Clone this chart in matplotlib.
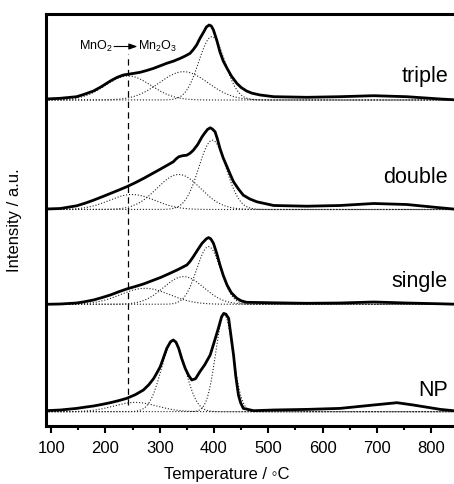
import numpy as np
import matplotlib
matplotlib.use("Agg")
import matplotlib.pyplot as plt

plt.rcParams['font.family'] = ['Liberation Sans', 'DejaVu Sans']
plt.rcParams['mathtext.default'] = 'regular'

# ---- data ----
samples = ["triple", "double", "single", "NP"]
offsets = [326, 216.5, 121.7, 14.3]

triple_T = [90, 117, 147, 160, 178, 193, 209, 221, 233, 245, 254, 264, 276, 289, 300, 313, 326, 338, 347, 356, 362, 368, 374, 381, 386, 391, 395, 399, 405, 411, 417, 424, 432, 442, 450, 460, 470, 485, 510, 571, 632, 694, 755, 817, 850]
triple_I = [1, 1.7, 3.3, 5.5, 9, 13.5, 19, 22.5, 25, 26, 26.8, 27.7, 29.5, 31.7, 34, 36.7, 39, 41.7, 44, 46.7, 50.5, 55, 61.5, 68, 73, 75, 74, 70, 60, 48, 39, 31.7, 24, 16.7, 12.5, 9, 6.8, 5, 3.3, 2.7, 3.3, 4.3, 3.3, 1, 0]

double_T = [90, 117, 147, 162, 178, 193, 209, 224, 239, 255, 270, 285, 301, 313, 325, 330, 335, 342, 350, 356, 362, 370, 378, 383, 388, 393, 397, 402, 406, 411, 417, 424, 430, 436, 445, 454, 466, 479, 510, 571, 632, 694, 755, 817, 850]
double_I = [0.5, 1, 3.7, 6.2, 9.3, 12.5, 16, 19.3, 22.7, 26.8, 31, 35.5, 40.3, 44, 47.7, 50.5, 52.7, 53.8, 54.3, 56.3, 59.3, 65, 72.7, 76.5, 80, 81.7, 80.5, 77.7, 71, 61, 51.5, 42.7, 35, 27.7, 20.5, 14.3, 10.5, 7.7, 4, 3.3, 4, 6, 5, 1.7, 0]

single_T = [90, 117, 147, 162, 178, 193, 209, 224, 239, 255, 270, 285, 301, 316, 332, 341, 350, 356, 362, 370, 378, 386, 390, 394, 399, 405, 411, 417, 424, 432, 442, 450, 460, 510, 571, 632, 694, 755, 817, 850]
single_I = [0, 0.3, 1.3, 2.6, 4.3, 6.6, 9.3, 12.4, 15.3, 17.8, 20.3, 23.4, 26.7, 30.3, 34.3, 36.8, 39.3, 43, 47.7, 54.5, 61, 65.5, 66.7, 65.5, 61, 51, 39.3, 29, 19.3, 11.5, 6, 3.5, 2, 1.5, 1, 1.3, 2.3, 1.3, 0.5, 0]

np_T = [90, 117, 147, 162, 178, 193, 209, 224, 239, 255, 270, 280, 289, 295, 301, 307, 313, 320, 325, 330, 335, 340, 347, 353, 359, 366, 374, 383, 393, 400, 408, 414, 418, 422, 427, 431, 436, 440, 445, 449, 454, 473, 510, 571, 632, 694, 737, 767, 817, 850]
np_I = [1, 1.7, 3.3, 4.5, 5.7, 7.2, 9, 11, 13.3, 17, 21.7, 27, 33.3, 39, 45, 54, 63.3, 70, 71.7, 69.5, 63.3, 54, 43.3, 36.5, 31.7, 33, 40, 47, 56.7, 69, 83.3, 95, 98.3, 97.5, 93.3, 77, 56.7, 36, 16.7, 9, 3.3, 1, 1.7, 2.3, 3.3, 6.7, 9, 6.7, 2.3, 0.5]

measured_T = [triple_T, double_T, single_T, np_T]
measured_I = [triple_I, double_I, single_I, np_I]

# fitted component peaks: (centre T, height, width sigma)
triple_peaks = [(242, 24, 42), (344, 28.3, 45), (396, 63.3, 24)]
double_peaks = [(249, 15, 42), (335, 35, 40), (397, 69.3, 25)]
single_peaks = [(273, 16, 45), (344, 27.7, 37), (390, 57.7, 22)]
np_peaks = [(255, 9.3, 40), (325, 70.7, 22), (419, 96.7, 16)]
peaks = [triple_peaks, double_peaks, single_peaks, np_peaks]

label_y = [344.3, 243.3, 139.3, 30]
transition_T = 242
xticks = [100, 200, 300, 400, 500, 600, 700, 800]

# ---- figure ----
fig = plt.figure(figsize=(4.54, 4.84), dpi=100)
ax = fig.add_axes([45.7 / 454, 58 / 484, (458.3 - 45.7) / 454, 412 / 484])
ax.set_xlim(90, 850)
ax.set_ylim(0, 412)

Tgrid = np.linspace(90, 850, 1200)
for k in range(4):
    off = offsets[k]
    for (c, h, s) in peaks[k]:
        g = h * np.exp(-(Tgrid - c) ** 2 / (2 * s ** 2))
        ax.plot(Tgrid, g + off, ls=':', lw=0.8, color='#222222', zorder=2)
    ax.plot(measured_T[k], np.array(measured_I[k]) + off, color='black', lw=2.0,
            solid_joinstyle='round', solid_capstyle='round', zorder=3)
    ax.text(831, label_y[k], samples[k], ha='right', va='baseline', fontsize=15.5)

ax.plot([transition_T, transition_T], [21, 372], ls=(0, (5, 3.5)), lw=0.9, color='black', zorder=1)

ax.text(213, 376, 'MnO$_2$', ha='right', va='baseline', fontsize=9)
ax.text(260, 376, 'Mn$_2$O$_3$', ha='left', va='baseline', fontsize=9)
ax.annotate('', xy=(259, 379.5), xytext=(216, 379.5),
            arrowprops=dict(arrowstyle='-|>,head_length=0.5,head_width=0.18', lw=0.8, color='black',
                            shrinkA=0, shrinkB=0))

ax.set_xticks(xticks)
ax.set_xticks(np.arange(150, 851, 100), minor=True)
ax.set_yticks([])
ax.tick_params(axis='x', which='major', direction='out', length=5, width=1.5, pad=6, labelsize=12)
ax.tick_params(axis='x', which='minor', direction='out', length=3, width=1.5)
for sp in ax.spines.values():
    sp.set_linewidth(2.2)

ax.set_xlabel('Temperature / ◦C', fontsize=12)
ax.xaxis.set_label_coords((227 - 45.7) / (458.3 - 45.7), -0.1)
ax.set_ylabel('Intensity / a.u.', fontsize=12)
ax.yaxis.set_label_coords(-0.058, 0.5)

fig.savefig('out.png', dpi=100)
